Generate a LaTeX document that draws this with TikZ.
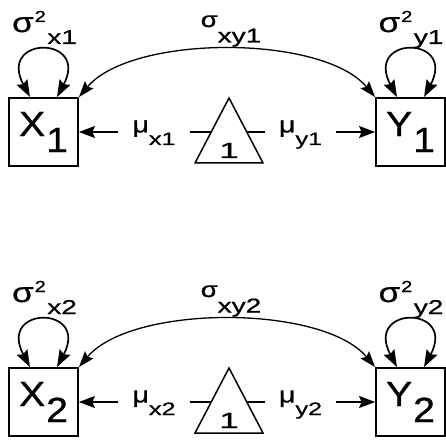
\documentclass[tikz,border=0pt]{standalone}
\usepackage{fontspec}
\setmainfont[FakeBold=0.8]{Liberation Sans}
\newfontfamily\subf[FakeStretch=1.4,FakeBold=0.8]{Liberation Sans}
\newfontfamily\midf[FakeStretch=1.25,FakeBold=0.8]{Liberation Sans}
\newfontfamily\boxf[FakeStretch=1.12,FakeBold=0.8]{Liberation Sans}
\newfontfamily\onef[FakeStretch=1.6,FakeBold=0.8]{Liberation Sans}
\usetikzlibrary{arrows.meta}
\newcommand{\varlab}[1]{{\midf\fontsize{28}{28}\selectfont σ}\hspace{1pt}\raisebox{10pt}{\midf\fontsize{16}{16}\selectfont 2}\hspace{1.5pt}\raisebox{-12pt}{\subf\fontsize{20}{20}\selectfont #1}}
\newcommand{\covlab}[1]{{\midf\fontsize{22}{22}\selectfont σ}\raisebox{-15.5pt}{\subf\fontsize{20}{20}\selectfont #1}}
\newcommand{\meanlab}[1]{{\midf\fontsize{23}{23}\selectfont μ}\raisebox{-12.5pt}{\subf\fontsize{18}{18}\selectfont #1}}
\newcommand{\boxlab}[2]{#1\hspace{1pt}\raisebox{-16pt}{#2}}
\tikzset{
  obs/.style={draw, line width=1.8pt, minimum width=69pt, minimum height=68pt, inner sep=0pt, font=\boxf\fontsize{35}{35}\selectfont},
  lab/.style={anchor=base, inner sep=0pt},
  mlab/.style={anchor=base, inner sep=0pt, minimum width=71pt},
  tip/.style={},
  arr/.style={-{Stealth[length=16pt,width=12pt,inset=2.5pt]}, line width=1.4pt},
  plain/.style={line width=1.4pt},
  selfloop/.style={{Stealth[length=17pt,width=12pt,inset=2.5pt]}-{Stealth[length=17pt,width=12pt,inset=2.5pt]}, line width=1.7pt},
  cov/.style={{Stealth[length=16pt,width=11pt,inset=2.5pt]}-{Stealth[length=16pt,width=11pt,inset=2.5pt]}, line width=1.3pt},
  tri/.style={line width=1.5pt, line join=miter},
}
\begin{document}
\begin{tikzpicture}[x=1pt,y=1pt]
\useasboundingbox (0,0) rectangle (446,439);
\foreach \r/\dy in {1/0,2/270}{
  % boxes
  \node[obs] (X\r) at (43.5,307-\dy) {\boxlab{X}{\r}};
  \node[obs] (Y\r) at (410.5,307-\dy) {\boxlab{Y}{\r}};
  % constant triangle
  \draw[tri] (195,276-\dy) -- (229,341-\dy) -- (263,276-\dy) -- cycle;
  \coordinate (tl\r) at (211.2,307-\dy);
  \coordinate (tr\r) at (246.8,307-\dy);
  \node[lab, font=\onef\fontsize{22}{22}\selectfont] (one\r) at (229,281-\dy) {1};
  % mean labels and arrows
  \node[mlab] (mux\r) at (154,306.5-\dy) {\meanlab{x\r}};
  \node[mlab] (muy\r) at (300.5,306.5-\dy) {\meanlab{y\r}};
  \draw[plain] (tl\r) -- (mux\r.east |- tl\r);
  \draw[arr] (mux\r.west |- X\r) -- (X\r);
  \draw[plain] (tr\r) -- (muy\r.west |- tr\r);
  \draw[arr] (muy\r.east |- Y\r) -- (Y\r);
  % variances
  \node[lab] (vx\r) at (44.5,407-\dy) {\varlab{x\r}};
  \node[lab] (vy\r) at (411,407-\dy) {\varlab{y\r}};
  \draw[selfloop] ([xshift=-13.5pt]X\r.north) .. controls +(118:70) and +(62:70) .. ([xshift=13.5pt]X\r.north);
  \draw[selfloop] ([xshift=-13.5pt]Y\r.north) .. controls +(118:70) and +(62:70) .. ([xshift=13.5pt]Y\r.north);
  % covariance
  \node[lab] (cxy\r) at (231,412-\dy) {\covlab{xy\r}};
  \draw[cov] (X\r.north east) .. controls +(50:82) and +(130:82) .. (Y\r.north west);
}
\end{tikzpicture}
\end{document}
